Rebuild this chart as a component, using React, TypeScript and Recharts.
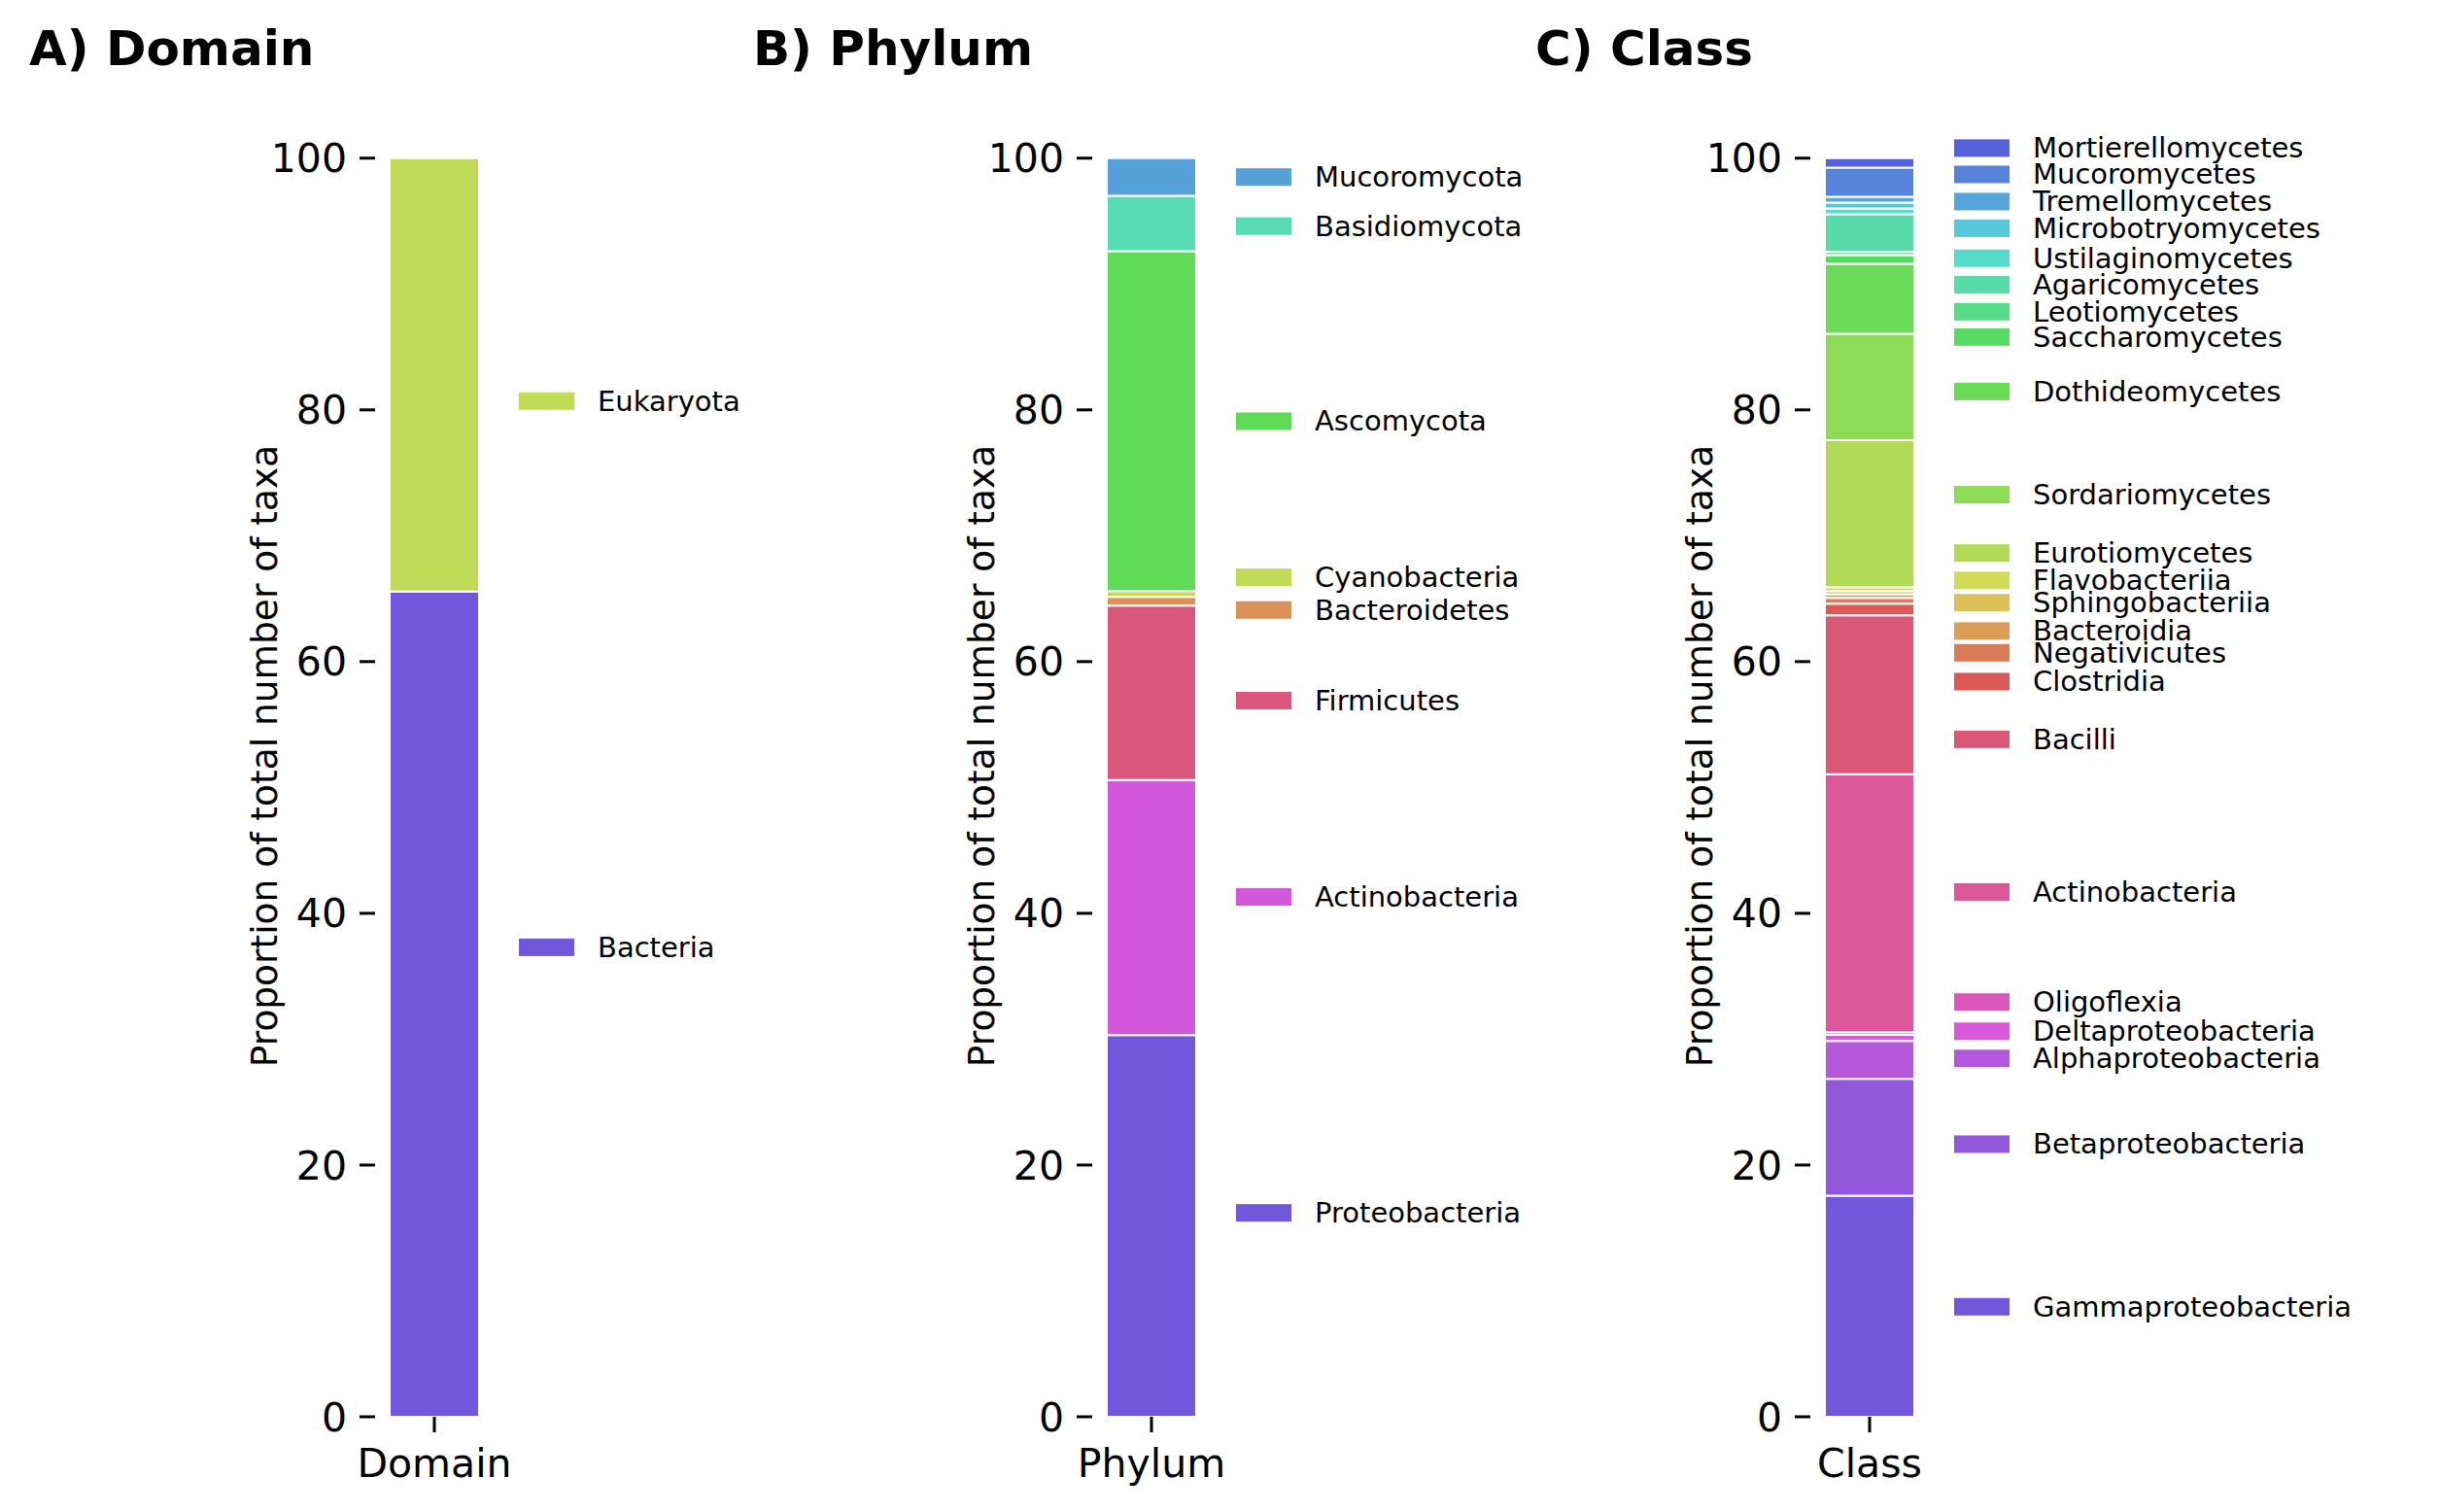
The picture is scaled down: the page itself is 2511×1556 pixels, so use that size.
import { Bar, BarChart, ReferenceDot, XAxis, YAxis } from "recharts"

const W = 2511
const H = 1556

const yTicks = [0, 20, 40, 60, 80, 100]

const domainNames = ["Bacteria", "Eukaryota"]
const domainValues = [65.56, 34.44]
const domainLabelY = [37.3, 80.7]
const domainColors = ["hsl(251.4,65%,60%)", "hsl(71.4,65%,60%)"]

const phylumNames = [
  "Proteobacteria",
  "Actinobacteria",
  "Firmicutes",
  "Bacteroidetes",
  "Cyanobacteria",
  "Ascomycota",
  "Basidiomycota",
  "Mucoromycota",
]
const phylumValues = [30.32, 20.27, 13.85, 0.7, 0.46, 27.0, 4.4, 3.0]
const phylumLabelY = [16.2, 41.3, 56.9, 64.1, 66.7, 79.1, 94.6, 98.5]
const phylumColors = [251.4, 296.4, 341.4, 26.4, 71.4, 116.4, 161.4, 206.4].map(
  (h) => `hsl(${h},65%,60%)`
)

const classNames = [
  "Gammaproteobacteria",
  "Betaproteobacteria",
  "Alphaproteobacteria",
  "Deltaproteobacteria",
  "Oligoflexia",
  "Actinobacteria",
  "Bacilli",
  "Clostridia",
  "Negativicutes",
  "Bacteroidia",
  "Sphingobacteriia",
  "Flavobacteriia",
  "Eurotiomycetes",
  "Sordariomycetes",
  "Dothideomycetes",
  "Saccharomycetes",
  "Leotiomycetes",
  "Agaricomycetes",
  "Ustilaginomycetes",
  "Microbotryomycetes",
  "Tremellomycetes",
  "Mucoromycetes",
  "Mortierellomycetes",
]
const classValues = [
  17.56, 9.28, 3.02, 0.49, 0.21, 20.5, 12.61, 0.93, 0.46, 0.29, 0.25, 0.31, 11.68, 8.46, 5.55,
  0.69, 0.26, 2.99, 0.46, 0.47, 0.46, 2.32, 0.75,
]
const classLabelY = [
  8.74, 21.66, 28.47, 30.63, 32.95, 41.7, 53.82, 58.41, 60.7, 62.43, 64.68, 66.45, 68.62, 73.26,
  81.46, 85.79, 87.8, 89.94, 92.05, 94.43, 96.55, 98.71, 100.8,
]
const classColors = [
  251.4, 267.0, 282.7, 298.3, 314.0, 329.7, 345.3, 1.0, 16.6, 32.3, 47.9, 63.6, 79.2, 94.9, 110.6,
  126.2, 141.9, 157.5, 173.2, 188.8, 204.5, 220.1, 235.8,
].map((h) => `hsl(${h},65%,60%)`)

const Y_LABEL = "Proportion of total number of taxa"

function YLabel(props: any) {
  const vb = props.viewBox || {}
  const x = vb.x + vb.width - 114
  const y = vb.y + vb.height / 2
  return (
    <text
      x={x}
      y={y}
      transform={`rotate(-90 ${x} ${y})`}
      textAnchor="middle"
      dominantBaseline="central"
      fontSize={37.5}
      fill="#000"
    >
      {Y_LABEL}
    </text>
  )
}

function LegendItem({ cx, cy, color, text }: any) {
  return (
    <g>
      <rect x={cx + 87} y={cy - 9} width={57} height={18} fill={color} />
      <text x={cx + 168} y={cy + 10} fontSize={29} fill="#000">
        {text}
      </text>
    </g>
  )
}

function StackPanel({
  category,
  names,
  values,
  colors,
  labelY,
  axisX,
}: {
  category: string
  names: string[]
  values: number[]
  colors: string[]
  labelY: number[]
  axisX: number
}) {
  const row: Record<string, any> = { name: category }
  names.forEach((n, i) => {
    row[n] = values[i]
  })
  return (
    <div style={{ position: "absolute", left: 0, top: 0 }}>
      <BarChart
        width={W}
        height={H}
        data={[row]}
        barSize={92}
        margin={{ top: 98, bottom: 38, left: axisX - 200, right: W - (axisX + 122) }}
      >
        <XAxis
          dataKey="name"
          axisLine={false}
          tickSize={16}
          tickMargin={17}
          height={60}
          tickLine={{ stroke: "#000", strokeWidth: 3 }}
          tick={{ fill: "#000", fontSize: 41 }}
        />
        <YAxis
          type="number"
          domain={[0, 105]}
          ticks={yTicks}
          width={200}
          axisLine={false}
          tickSize={16}
          tickMargin={13}
          tickLine={{ stroke: "#000", strokeWidth: 3 }}
          tick={{ fill: "#000", fontSize: 41 }}
          label={<YLabel />}
        />
        {names.map((n, i) => (
          <Bar
            key={n}
            dataKey={n}
            stackId="s"
            fill={colors[i]}
            stroke="#fff"
            strokeWidth={2}
            isAnimationActive={false}
          />
        ))}
        {names.map((n, i) => (
          <ReferenceDot
            key={"lg-" + n}
            x={category}
            y={labelY[i]}
            r={0}
            ifOverflow="visible"
            shape={(p: any) => <LegendItem cx={p.cx} cy={p.cy} color={colors[i]} text={n} />}
          />
        ))}
      </BarChart>
    </div>
  )
}

export default function App() {
  return (
    <div
      style={{
        position: "absolute",
        left: 0,
        top: 0,
        width: W,
        height: H,
        background: "#fff",
        fontFamily: "'DejaVu Sans', sans-serif",
      }}
    >
      <StackPanel
        category="Domain"
        names={domainNames}
        values={domainValues}
        colors={domainColors}
        labelY={domainLabelY}
        axisX={386}
      />
      <StackPanel
        category="Phylum"
        names={phylumNames}
        values={phylumValues}
        colors={phylumColors}
        labelY={phylumLabelY}
        axisX={1124}
      />
      <StackPanel
        category="Class"
        names={classNames}
        values={classValues}
        colors={classColors}
        labelY={classLabelY}
        axisX={1863}
      />
      <svg
        width={W}
        height={H}
        style={{ position: "absolute", left: 0, top: 0, pointerEvents: "none" }}
      >
        <g fontWeight="bold" fontSize={50} fill="#000">
          <text x={30} y={67}>A) Domain</text>
          <text x={775} y={67}>B) Phylum</text>
          <text x={1580} y={67}>C) Class</text>
        </g>
      </svg>
    </div>
  )
}
